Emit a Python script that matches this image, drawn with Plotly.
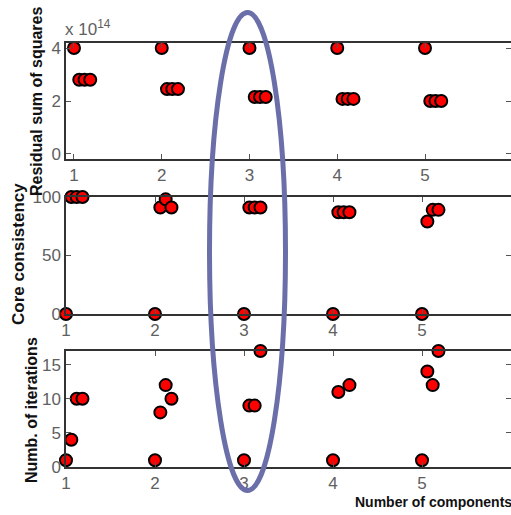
import plotly.graph_objects as go

# ---- data -------------------------------------------------------------
components = [1, 2, 3, 4, 5]
run_offsets = [0.0, 0.06, 0.12, 0.185]   # small horizontal shift per fitting run

rss_exponent = 14
# residual sum of squares in units of 10^14, one row per model size, one column per run
rss_scaled = [
    [4.0, 2.80, 2.80, 2.80],
    [4.0, 2.45, 2.45, 2.45],
    [4.0, 2.15, 2.15, 2.15],
    [4.0, 2.08, 2.08, 2.08],
    [4.0, 2.00, 2.00, 2.00],
]
core_consistency = [
    [0, 100, 100, 100],
    [0, 91, 98, 91],
    [0, 91, 91, 91],
    [0, 87, 87, 87],
    [0, 79, 89, 89],
]
iterations = [
    [1, 4, 10, 10],
    [1, 8, 12, 10],
    [1, 9, 9, 17],
    [1, 11, None, 12],
    [1, 14, 12, 17],
]

rss_ticks = [0, 2, 4]
cc_ticks = [0, 50, 100]
it_ticks = [0, 5, 10, 15]

# ---- layout helpers ---------------------------------------------------
W, H = 511, 515


def ydom(top_px, bottom_px):
    return [1 - bottom_px / H, 1 - top_px / H]


x_dom = [66 / W, 1.0]
tick_font = dict(family="Liberation Sans Narrow, Arial Narrow, Liberation Sans, Arial, sans-serif",
                 size=17, color="#606060")
title_family = "Liberation Sans, Arial, sans-serif"

base_axis = dict(
    linecolor="#333333", linewidth=1.5, automargin=False,
    ticks="inside", ticklen=5, tickcolor="#555555", tickwidth=1,
    showgrid=False, zeroline=False, tickfont=tick_font,
)
x_style = dict(base_axis, showline=True, mirror="ticks")
y_style = dict(base_axis, showline=True, mirror=False)
# right-hand tick marks only (no frame line on that side)
y_right = dict(base_axis, showline=False, side="right", showticklabels=False)


def points(values, scale=1.0):
    xs, ys = [], []
    for comp, row in zip(components, values):
        for off, v in zip(run_offsets, row):
            if v is None:
                continue
            xs.append(comp + off)
            ys.append(v * scale)
    return xs, ys


marker = dict(size=12, color="#ff0000", line=dict(color="#000000", width=2))

fig = go.Figure()
scale = 10 ** rss_exponent
for vals, sc, xa, ya in [
    (rss_scaled, scale, "x", "y"),
    (core_consistency, 1.0, "x2", "y2"),
    (iterations, 1.0, "x3", "y3"),
]:
    xs, ys = points(vals, sc)
    fig.add_trace(go.Scatter(x=xs, y=ys, mode="markers", marker=marker,
                             xaxis=xa, yaxis=ya, cliponaxis=False,
                             showlegend=False, hoverinfo="skip"))

rss_range = [-0.19 * scale, 4.19 * scale]
rss_vals = [t * scale for t in rss_ticks]

fig.update_layout(
    width=W, height=H,
    margin=dict(l=0, r=0, t=0, b=0, pad=0, autoexpand=False),
    paper_bgcolor="white", plot_bgcolor="white",
    xaxis=dict(x_style, domain=x_dom, anchor="y", range=[0.909, 5.98],
               tickvals=components),
    yaxis=dict(y_style, domain=ydom(43, 159), anchor="x", range=rss_range,
               tickvals=rss_vals, ticktext=[str(t) for t in rss_ticks]),
    yaxis4=dict(y_right, overlaying="y", anchor="x", range=rss_range,
                tickvals=rss_vals),
    xaxis2=dict(x_style, domain=x_dom, anchor="y2", range=[1, 6],
                tickvals=components),
    yaxis2=dict(y_style, domain=ydom(197, 314), anchor="x2",
                range=[0, 100], tickvals=cc_ticks),
    yaxis5=dict(y_right, overlaying="y2", anchor="x2", range=[0, 100],
                tickvals=cc_ticks),
    xaxis3=dict(x_style, domain=x_dom, anchor="y3", range=[1, 6],
                tickvals=components),
    yaxis3=dict(y_style, domain=ydom(351, 467), anchor="x3",
                range=[0, 17], tickvals=it_ticks),
    yaxis6=dict(y_right, overlaying="y3", anchor="x3", range=[0, 17],
                tickvals=it_ticks),
)

# invisible carriers so the right-hand tick axes are drawn
for ya, xa in [("y4", "x"), ("y5", "x2"), ("y6", "x3")]:
    fig.add_trace(go.Scatter(x=[None], y=[None], xaxis=xa, yaxis=ya,
                             showlegend=False, hoverinfo="skip"))


# axis titles
def add_title(text, xpx, ypx, angle, size):
    fig.add_annotation(text=f"<b>{text}</b>", xref="paper", yref="paper",
                       x=xpx / W, y=1 - ypx / H, xanchor="center", yanchor="middle",
                       textangle=angle, showarrow=False,
                       font=dict(family=title_family, size=size, color="#111111"))


add_title("Residual sum of squares", 37, 102, -90, 16)
add_title("Core consistency", 18, 254, -90, 17)
add_title("Numb. of iterations", 31, 410, -90, 16)
add_title("Number of components", 433, 502, 0, 14)

# exponent label for the top panel
fig.add_annotation(text=f"x 10<sup>{rss_exponent}</sup>", xref="paper", yref="paper",
                   x=63 / W, y=1 - 28 / H, xanchor="left", yanchor="middle",
                   showarrow=False, font=dict(tick_font, size=17))

# highlight around the three-component solutions
cx, cy, rx, ry = 247.5, 251.5, 38, 239
fig.add_shape(type="circle", xref="paper", yref="paper",
              x0=(cx - rx) / W, x1=(cx + rx) / W,
              y0=1 - (cy + ry) / H, y1=1 - (cy - ry) / H,
              line=dict(color="#6b6fa9", width=5), layer="above")

fig.write_html("out.html")
